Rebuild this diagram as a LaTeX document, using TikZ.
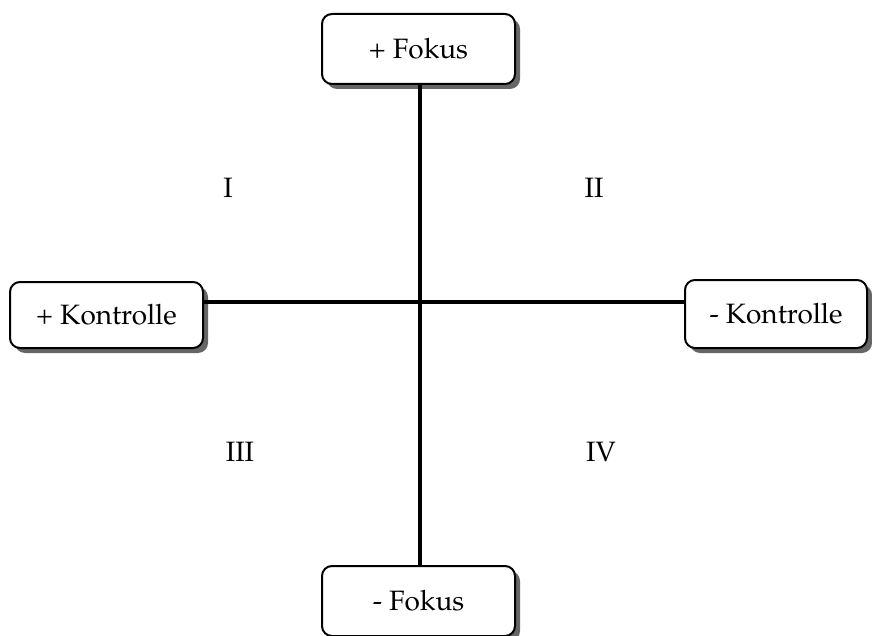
\documentclass[tikz,border=0pt,12pt]{standalone}
\usepackage[T1]{fontenc}
\usepackage{mathpazo}
\usepackage{tikz}
\usetikzlibrary{shadows}

\begin{document}
\begin{tikzpicture}[x=0.5pt, y=-0.5pt, line join=round,
    pole/.style={draw=black, line width=1pt, rounded corners=5pt, fill=white,
      minimum height=35pt, inner sep=0pt, font=\fontsize{14}{17}\selectfont,
      drop shadow={shadow xshift=2.5pt, shadow yshift=-2.5pt, fill=black!60, opacity=1}},
    axis/.style={line width=2pt},
    quad/.style={font=\fontsize{14}{17}\selectfont}]
  \useasboundingbox (0,0) rectangle (872,636);
  \coordinate (ctr) at (420,302);
  \node[pole, minimum width=96.5pt] (pf) at (418.5,49) {+ Fokus};
  \node[pole, minimum width=96.5pt, minimum height=33pt] (pk) at (106.5,315) {+ Kontrolle};
  \node[pole, minimum width=91pt, minimum height=34pt] (mk) at (776,314) {- Kontrolle};
  \node[pole, minimum width=96.5pt] (mf) at (418.5,601) {- Fokus};
  \draw[axis] (pf.south -| ctr) -- (mf.north -| ctr);
  \draw[axis] (pk.east |- ctr) -- (mk.west |- ctr);
  \node[quad] (q1) at (228,188) {I};
  \node[quad] (q2) at (594,188) {II};
  \node[quad] (q3) at (240,452) {III};
  \node[quad] (q4) at (601,452) {IV};
\end{tikzpicture}
\end{document}
